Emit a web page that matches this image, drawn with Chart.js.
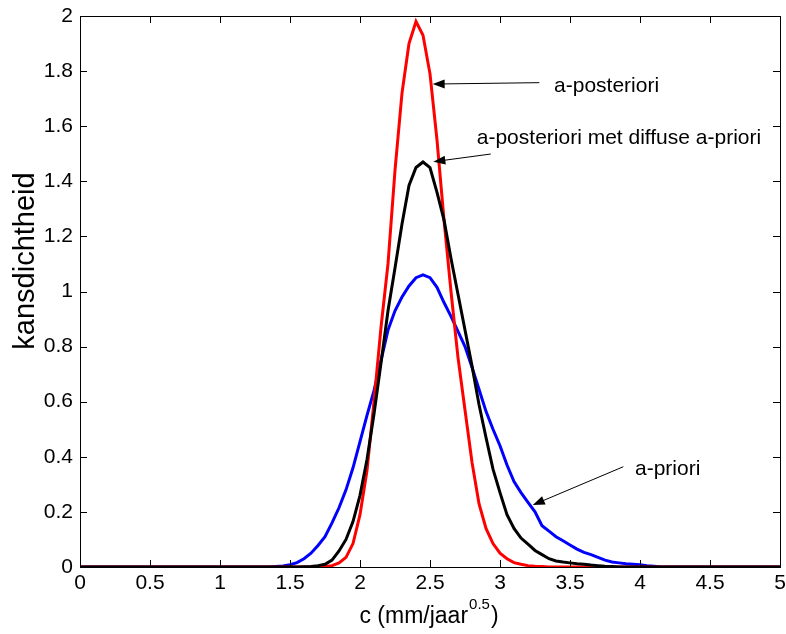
<!DOCTYPE html>
<html lang="nl">
<head>
<meta charset="UTF-8">
<title>kansdichtheid</title>
<script src="https://cdn.jsdelivr.net/npm/chart.js"></script>
<style>
    html, body { margin: 0; padding: 0; background: #fff; }
    #plot { display: block; }
</style>
</head>
<body>
<canvas id="plot" width="786" height="634"></canvas>
<script>
// c values (mm/jaar^0.5); curves are zero outside 1.35 .. 4.15
const cValues = [0,
    1.35, 1.40, 1.45, 1.50, 1.55, 1.60, 1.65, 1.70, 1.75, 1.80,
    1.85, 1.90, 1.95, 2.00, 2.05, 2.10, 2.15, 2.20, 2.25, 2.30,
    2.35, 2.40, 2.45, 2.50, 2.55, 2.60, 2.65, 2.70, 2.75, 2.80,
    2.85, 2.90, 2.95, 3.00, 3.05, 3.10, 3.15, 3.20, 3.25, 3.30,
    3.35, 3.40, 3.45, 3.50, 3.55, 3.60, 3.65, 3.70, 3.75, 3.80,
    3.85, 3.90, 3.95, 4.00, 4.05, 4.10, 4.15,
    5];

const aPriori = [0,
    0.000, 0.002, 0.004, 0.008, 0.016, 0.030, 0.050, 0.078, 0.110, 0.160,
    0.215, 0.280, 0.360, 0.455, 0.550, 0.640, 0.750, 0.860, 0.930, 0.980,
    1.020, 1.050, 1.060, 1.050, 1.015, 0.960, 0.910, 0.855, 0.800, 0.725,
    0.645, 0.565, 0.500, 0.440, 0.370, 0.310, 0.270, 0.235, 0.200, 0.150,
    0.130, 0.110, 0.095, 0.080, 0.065, 0.053, 0.045, 0.035, 0.025, 0.018,
    0.015, 0.012, 0.010, 0.008, 0.005, 0.003, 0.000,
    0];

const aPosteriori = [0,
    0.000, 0.000, 0.000, 0.000, 0.000, 0.000, 0.000, 0.001, 0.002, 0.005,
    0.015, 0.035, 0.085, 0.190, 0.350, 0.600, 0.870, 1.100, 1.440, 1.720,
    1.900, 1.980, 1.930, 1.790, 1.550, 1.260, 1.000, 0.760, 0.570, 0.380,
    0.230, 0.140, 0.085, 0.050, 0.030, 0.016, 0.010, 0.005, 0.003, 0.002,
    0.000, 0.000, 0.000, 0.000, 0.000, 0.000, 0.000, 0.000, 0.000, 0.000,
    0.000, 0.000, 0.000, 0.000, 0.000, 0.000, 0.000,
    0];

const aPosterioriDiffuse = [0,
    0.000, 0.000, 0.000, 0.000, 0.000, 0.001, 0.002, 0.005, 0.010, 0.025,
    0.058, 0.100, 0.165, 0.260, 0.390, 0.555, 0.740, 0.930, 1.085, 1.245,
    1.385, 1.450, 1.470, 1.450, 1.360, 1.260, 1.120, 0.990, 0.860, 0.730,
    0.590, 0.470, 0.355, 0.270, 0.190, 0.140, 0.105, 0.083, 0.060, 0.045,
    0.030, 0.022, 0.018, 0.015, 0.012, 0.010, 0.007, 0.005, 0.003, 0.002,
    0.000, 0.000, 0.000, 0.000, 0.000, 0.000, 0.000,
    0];

const xTicks = [0, 0.5, 1, 1.5, 2, 2.5, 3, 3.5, 4, 4.5, 5];
const yTicks = [0, 0.2, 0.4, 0.6, 0.8, 1, 1.2, 1.4, 1.6, 1.8, 2];

// text annotations with arrows, in data coordinates
const notes = [
    { text: 'a-posteriori', tip: [2.519, 1.753], tail: [3.281, 1.758], at: [3.386, 1.745] },
    { text: 'a-posteriori met diffuse a-priori', tip: [2.524, 1.471], tail: [2.934, 1.499], at: [2.834, 1.558] },
    { text: 'a-priori', tip: [3.234, 0.225], tail: [3.881, 0.364], at: [3.964, 0.356] }
];

const FONT = '"Liberation Sans", Arial, Helvetica, sans-serif';

function toPoints(ys) {
    return cValues.map((c, i) => ({ x: c, y: ys[i] }));
}

function drawArrow(ctx, x0, y0, x1, y1) {
    const ang = Math.atan2(y1 - y0, x1 - x0);
    const len = 12, half = 4.5;
    ctx.beginPath();
    ctx.moveTo(x0, y0);
    ctx.lineTo(x1 - Math.cos(ang) * len * 0.8, y1 - Math.sin(ang) * len * 0.8);
    ctx.stroke();
    ctx.beginPath();
    ctx.moveTo(x1, y1);
    ctx.lineTo(x1 - Math.cos(ang) * len + Math.sin(ang) * half, y1 - Math.sin(ang) * len - Math.cos(ang) * half);
    ctx.lineTo(x1 - Math.cos(ang) * len - Math.sin(ang) * half, y1 - Math.sin(ang) * len + Math.cos(ang) * half);
    ctx.closePath();
    ctx.fill();
}

const matlabFrame = {
    id: 'matlabFrame',
    afterDraw(chart) {
        const { ctx, chartArea: a, scales: { x, y } } = chart;
        ctx.save();
        ctx.strokeStyle = '#000';
        ctx.fillStyle = '#000';
        ctx.lineWidth = 1;

        // box
        ctx.strokeRect(a.left + 0.5, a.top + 0.5, a.right - a.left, a.bottom - a.top);

        // inward ticks on all four sides
        const tl = 7;
        ctx.beginPath();
        xTicks.forEach(v => {
            const px = Math.round(x.getPixelForValue(v)) + 0.5;
            ctx.moveTo(px, a.bottom); ctx.lineTo(px, a.bottom - tl);
            ctx.moveTo(px, a.top); ctx.lineTo(px, a.top + tl);
        });
        yTicks.forEach(v => {
            const py = Math.round(y.getPixelForValue(v)) + 0.5;
            ctx.moveTo(a.left, py); ctx.lineTo(a.left + tl, py);
            ctx.moveTo(a.right, py); ctx.lineTo(a.right - tl, py);
        });
        ctx.stroke();

        // annotations
        ctx.font = '21px ' + FONT;
        ctx.textAlign = 'left';
        ctx.textBaseline = 'middle';
        notes.forEach(n => {
            drawArrow(ctx,
                x.getPixelForValue(n.tail[0]), y.getPixelForValue(n.tail[1]),
                x.getPixelForValue(n.tip[0]), y.getPixelForValue(n.tip[1]));
            ctx.fillText(n.text, x.getPixelForValue(n.at[0]), y.getPixelForValue(n.at[1]));
        });

        // x axis title with superscript
        const main = 'c (mm/jaar', sup = '0.5', close = ')';
        ctx.textBaseline = 'alphabetic';
        ctx.font = '23px ' + FONT;
        const w1 = ctx.measureText(main).width, w3 = ctx.measureText(close).width;
        ctx.font = '15px ' + FONT;
        const w2 = ctx.measureText(sup).width;
        const tx = (a.left + a.right) / 2 - (w1 + w2 + w3) / 2 - 2;
        const base = 623;
        ctx.font = '23px ' + FONT;
        ctx.fillText(main, tx, base);
        ctx.font = '15px ' + FONT;
        ctx.fillText(sup, tx + w1 + 1, base - 14);
        ctx.font = '23px ' + FONT;
        ctx.fillText(close, tx + w1 + w2 + 2, base);

        // y axis title
        ctx.translate(26, 261);
        ctx.rotate(-Math.PI / 2);
        ctx.textAlign = 'center';
        ctx.textBaseline = 'middle';
        ctx.font = '29px ' + FONT;
        ctx.fillText('kansdichtheid', 0, 0);
        ctx.restore();
    }
};

const lineStyle = {
    borderWidth: 3,
    pointRadius: 0,
    tension: 0,
    fill: false
};

new Chart(document.getElementById('plot').getContext('2d'), {
    type: 'line',
    data: {
        datasets: [
            { label: 'a-posteriori met diffuse a-priori', data: toPoints(aPosterioriDiffuse), borderColor: '#000000', ...lineStyle },
            { label: 'a-posteriori', data: toPoints(aPosteriori), borderColor: '#ff0000', ...lineStyle },
            { label: 'a-priori', data: toPoints(aPriori), borderColor: '#0000ff', ...lineStyle }
        ]
    },
    options: {
        responsive: false,
        animation: false,
        layout: { padding: { left: 0, right: 6, top: 16, bottom: 0 } },
        plugins: {
            legend: { display: false },
            tooltip: { enabled: false }
        },
        scales: {
            x: {
                type: 'linear',
                min: 0,
                max: 5,
                afterBuildTicks: s => { s.ticks = xTicks.map(v => ({ value: v })); },
                afterFit: s => { s.height = 67; s.paddingLeft = 0; s.paddingRight = 0; },
                grid: { display: false, drawTicks: false },
                border: { display: false },
                ticks: {
                    autoSkip: false,
                    maxRotation: 0,
                    padding: 4,
                    color: '#000',
                    font: { family: FONT, size: 21 },
                    callback: v => String(v)
                }
            },
            y: {
                type: 'linear',
                min: 0,
                max: 2,
                afterBuildTicks: s => { s.ticks = yTicks.map(v => ({ value: v })); },
                afterFit: s => { s.width = 80; s.paddingTop = 0; s.paddingBottom = 0; },
                grid: { display: false, drawTicks: false },
                border: { display: false },
                ticks: {
                    padding: 7,
                    color: '#000',
                    font: { family: FONT, size: 21 },
                    callback: v => String(v)
                }
            }
        }
    },
    plugins: [matlabFrame]
});
</script>
</body>
</html>
